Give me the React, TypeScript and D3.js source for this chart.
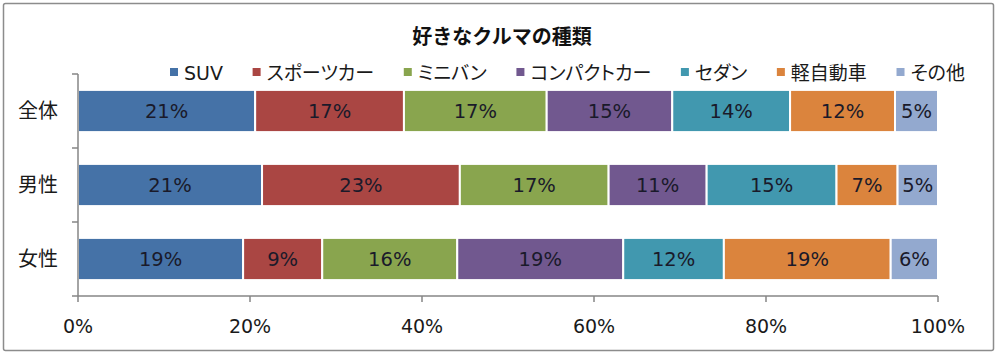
import React, { useEffect, useRef } from "react";
import * as d3 from "d3";

const title = "好きなクルマの種類";
const categories = ["全体", "男性", "女性"];
const seriesNames = ["SUV", "スポーツカー", "ミニバン", "コンパクトカー", "セダン", "軽自動車", "その他"];
const seriesColors = ["#4572A7", "#AA4643", "#89A54E", "#71588F", "#4198AF", "#DB843D", "#93A9CF"];
// values per series, in order of categories (全体, 男性, 女性), percent
const suv = [20.6, 21.4, 19.2];
const sports = [17.3, 23.0, 9.2];
const minivan = [16.6, 17.3, 15.7];
const compact = [14.6, 11.4, 19.3];
const sedan = [13.7, 15.1, 11.7];
const kei = [12.2, 7.1, 19.4];
const other = [5.0, 4.7, 5.5];
const seriesValues = [suv, sports, minivan, compact, sedan, kei, other];
const xTicks = [0, 20, 40, 60, 80, 100];

const W = 1000;
const H = 356;
const FONT = "'DejaVu Sans', 'Noto Sans CJK JP', sans-serif";

export default function App() {
  const ref = useRef<SVGSVGElement>(null);

  useEffect(() => {
    const svg = d3.select(ref.current);
    svg.selectAll("*").remove();

    const margin = { left: 78, right: 62, top: 74, bottom: 60 };
    const x = d3.scaleLinear().domain([0, 100]).range([margin.left, W - margin.right]);
    const y = d3
      .scaleBand<string>()
      .domain(categories)
      .range([margin.top, H - margin.bottom])
      .paddingInner(0.43)
      .paddingOuter(0.215);

    // frame
    svg
      .append("rect")
      .attr("x", 3.5)
      .attr("y", 3.5)
      .attr("width", 990)
      .attr("height", 347)
      .attr("rx", 2)
      .attr("fill", "#fff")
      .attr("stroke", "#8c8c8c")
      .attr("stroke-width", 1.5);

    // title
    svg
      .append("text")
      .attr("x", W / 2 + 2)
      .attr("y", 44)
      .attr("text-anchor", "middle")
      .attr("font-family", FONT)
      .attr("font-size", 20)
      .attr("font-weight", "bold")
      .attr("fill", "#111")
      .text(title);

    // stacked data
    const rows = categories.map((c, i) => {
      const obj: any = { cat: c };
      seriesNames.forEach((s, j) => (obj[s] = seriesValues[j][i]));
      return obj;
    });
    const stack = d3.stack<any>().keys(seriesNames)(rows);

    const g = svg.append("g");
    stack.forEach((layer, j) => {
      const key = seriesNames[j];
      const lg = g.append("g");
      lg.selectAll("rect")
        .data(layer)
        .join("rect")
        .attr("x", (d) => x(d[0]))
        .attr("y", (d) => y(d.data.cat)!)
        .attr("width", (d) => x(d[1]) - x(d[0]))
        .attr("height", y.bandwidth())
        .attr("fill", seriesColors[j])
        .attr("stroke", "#fff")
        .attr("stroke-width", 2);
      lg.selectAll("text")
        .data(layer)
        .join("text")
        .attr("x", (d) => (x(d[0]) + x(d[1])) / 2)
        .attr("y", (d) => y(d.data.cat)! + y.bandwidth() / 2)
        .attr("dy", "0.36em")
        .attr("text-anchor", "middle")
        .attr("font-family", FONT)
        .attr("font-size", 19.5)
        .attr("fill", "#1a1a2a")
        .text((d) => `${Math.round(d.data[key])}%`);
    });

    // axes
    const axisColor = "#868686";
    const y0 = H - margin.bottom;
    svg
      .append("line")
      .attr("x1", x(0))
      .attr("x2", x(100))
      .attr("y1", y0)
      .attr("y2", y0)
      .attr("stroke", axisColor)
      .attr("stroke-width", 1.5);
    svg
      .append("line")
      .attr("x1", x(0))
      .attr("x2", x(0))
      .attr("y1", margin.top)
      .attr("y2", y0)
      .attr("stroke", axisColor)
      .attr("stroke-width", 1.5);
    svg
      .selectAll(".xt")
      .data(xTicks)
      .join("line")
      .attr("x1", (d) => x(d))
      .attr("x2", (d) => x(d))
      .attr("y1", y0)
      .attr("y2", y0 + 6)
      .attr("stroke", axisColor)
      .attr("stroke-width", 1.5);
    svg
      .selectAll(".xl")
      .data(xTicks)
      .join("text")
      .attr("x", (d) => x(d))
      .attr("y", y0 + 37)
      .attr("text-anchor", "middle")
      .attr("font-family", FONT)
      .attr("font-size", 19)
      .attr("fill", "#1a1a1a")
      .text((d) => `${d}%`);

    const yTickPos = d3
      .range(categories.length + 1)
      .map((i) => margin.top + (i * (H - margin.bottom - margin.top)) / categories.length);
    svg
      .selectAll(".yt")
      .data(yTickPos)
      .join("line")
      .attr("x1", x(0) - 6)
      .attr("x2", x(0))
      .attr("y1", (d) => d)
      .attr("y2", (d) => d)
      .attr("stroke", axisColor)
      .attr("stroke-width", 1.5);
    svg
      .selectAll(".yl")
      .data(categories)
      .join("text")
      .attr("x", 38)
      .attr("y", (d) => y(d)! + y.bandwidth() / 2)
      .attr("dy", "0.36em")
      .attr("text-anchor", "middle")
      .attr("font-family", FONT)
      .attr("font-size", 20)
      .attr("fill", "#1a1a1a")
      .text((d) => d);

    // legend
    const lg = svg.append("g");
    const items = seriesNames.map((name, i) => {
      const it = lg.append("g");
      it.append("rect").attr("x", 0).attr("y", -5).attr("width", 8).attr("height", 8).attr("fill", seriesColors[i]);
      const t = it
        .append("text")
        .attr("x", 14)
        .attr("y", 0)
        .attr("dy", "0.36em")
        .attr("font-family", FONT)
        .attr("font-size", 19)
        .attr("fill", "#1a1a1a")
        .style("font-feature-settings", "'palt'")
        .text(name);
      const w = 14 + (t.node() as SVGTextElement).getComputedTextLength();
      return { it, w };
    });
    const start = 170;
    const end = 965;
    const total = d3.sum(items, (d) => d.w);
    const gap = (end - start - total) / (items.length - 1);
    let cx = start;
    items.forEach((d) => {
      d.it.attr("transform", `translate(${cx},73)`);
      cx += d.w + gap;
    });
  }, []);

  return <svg ref={ref} width={W} height={H} style={{ display: "block", position: "absolute", left: 0, top: 0 }} />;
}
